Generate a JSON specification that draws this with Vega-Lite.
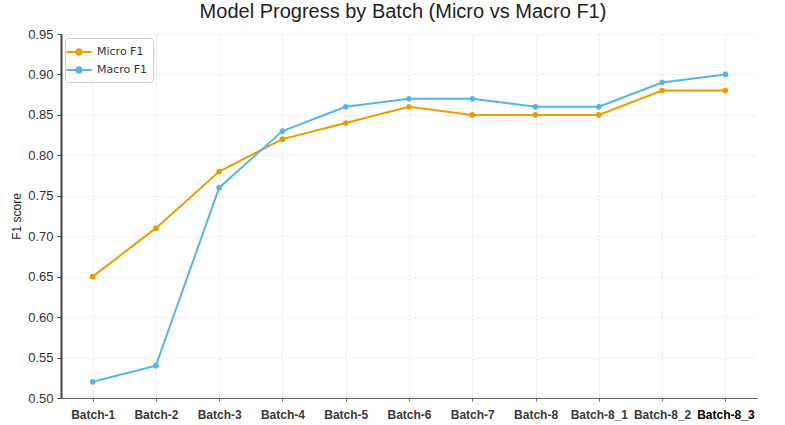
{
  "$schema": "https://vega.github.io/schema/vega-lite/v6.json",
  "width": 696,
  "height": 364,
  "autosize": "none",
  "padding": {"left": 61, "top": 34, "right": 28, "bottom": 27},
  "background": "white",
  "title": {
    "text": "Model Progress by Batch (Micro vs Macro F1)",
    "font": "Liberation Sans",
    "fontSize": 20,
    "fontWeight": "normal",
    "color": "#222",
    "anchor": "middle",
    "dx": -6,
    "offset": 6
  },
  "config": {
    "view": {"stroke": null},
    "font": "Liberation Sans"
  },
  "data": {
    "values": [
      {"batch": "Batch-1", "series": "Micro F1", "f1": 0.65},
      {"batch": "Batch-2", "series": "Micro F1", "f1": 0.71},
      {"batch": "Batch-3", "series": "Micro F1", "f1": 0.78},
      {"batch": "Batch-4", "series": "Micro F1", "f1": 0.82},
      {"batch": "Batch-5", "series": "Micro F1", "f1": 0.84},
      {"batch": "Batch-6", "series": "Micro F1", "f1": 0.86},
      {"batch": "Batch-7", "series": "Micro F1", "f1": 0.85},
      {"batch": "Batch-8", "series": "Micro F1", "f1": 0.85},
      {"batch": "Batch-8_1", "series": "Micro F1", "f1": 0.85},
      {"batch": "Batch-8_2", "series": "Micro F1", "f1": 0.88},
      {"batch": "Batch-8_3", "series": "Micro F1", "f1": 0.88},
      {"batch": "Batch-1", "series": "Macro F1", "f1": 0.52},
      {"batch": "Batch-2", "series": "Macro F1", "f1": 0.54},
      {"batch": "Batch-3", "series": "Macro F1", "f1": 0.76},
      {"batch": "Batch-4", "series": "Macro F1", "f1": 0.83},
      {"batch": "Batch-5", "series": "Macro F1", "f1": 0.86},
      {"batch": "Batch-6", "series": "Macro F1", "f1": 0.87},
      {"batch": "Batch-7", "series": "Macro F1", "f1": 0.87},
      {"batch": "Batch-8", "series": "Macro F1", "f1": 0.86},
      {"batch": "Batch-8_1", "series": "Macro F1", "f1": 0.86},
      {"batch": "Batch-8_2", "series": "Macro F1", "f1": 0.89},
      {"batch": "Batch-8_3", "series": "Macro F1", "f1": 0.90}
    ]
  },
  "encoding": {
    "x": {
      "field": "batch",
      "type": "ordinal",
      "sort": null,
      "scale": {"type": "point", "padding": 0.5},
      "axis": {
        "title": null,
        "labelAngle": 0,
        "labelFont": "Liberation Sans",
        "labelFontSize": 12,
        "labelFontWeight": "bold",
        "labelColor": {"expr": "datum.value == 'Batch-8_3' ? '#000' : '#3a3a3a'"},
        "labelPadding": 8,
        "domainColor": "#666",
        "domainWidth": 1,
        "tickColor": "#666",
        "tickSize": 3,
        "grid": true,
        "gridColor": "#e2e2e2",
        "gridDash": [2, 2],
        "labelOverlap": false
      }
    },
    "y": {
      "field": "f1",
      "type": "quantitative",
      "scale": {"domain": [0.5, 0.95], "nice": false, "zero": false},
      "axis": {
        "title": "F1 score",
        "titleFont": "Liberation Sans",
        "titleFontSize": 12,
        "titleFontWeight": "normal",
        "titleColor": "#222",
        "titlePadding": 4,
        "values": [0.5, 0.55, 0.6, 0.65, 0.7, 0.75, 0.8, 0.85, 0.9, 0.95],
        "format": ".2f",
        "labelFont": "Liberation Sans",
        "labelFontSize": 13,
        "labelColor": "#333",
        "labelPadding": 4,
        "domainColor": "#444",
        "domainWidth": 2,
        "tickColor": "#444",
        "tickSize": 4,
        "grid": true,
        "gridColor": "#e2e2e2",
        "gridDash": [2, 2]
      }
    },
    "color": {
      "field": "series",
      "type": "nominal",
      "scale": {"domain": ["Micro F1", "Macro F1"], "range": ["#E69F00", "#56B4E9"]},
      "legend": {
        "title": null,
        "orient": "top-left",
        "offset": 4,
        "strokeColor": "#cccccc",
        "fillColor": "white",
        "cornerRadius": 3,
        "padding": 5,
        "labelFont": "DejaVu Sans",
        "labelFontSize": 11,
        "labelColor": "#333",
        "labelOffset": 9,
        "rowPadding": 2,
        "symbolType": "M-1.6,0H1.6M-0.35,0A0.35,0.35 0 1,1 0.35,0A0.35,0.35 0 1,1 -0.35,0",
        "symbolSize": 250,
        "symbolStrokeWidth": 2
      }
    }
  },
  "layer": [
    {"mark": {"type": "line", "strokeWidth": 2}},
    {"mark": {"type": "circle", "size": 32, "opacity": 1}}
  ]
}
